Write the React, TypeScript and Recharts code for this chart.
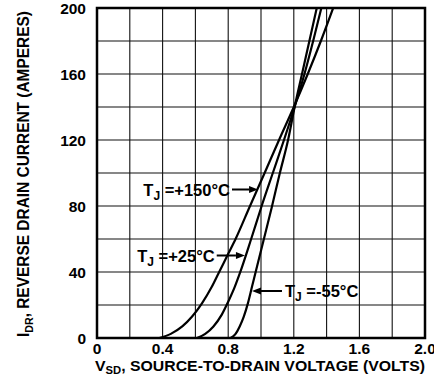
import {
  CartesianGrid,
  Label,
  Line,
  LineChart,
  ReferenceArea,
  ReferenceLine,
  XAxis,
  YAxis
} from "recharts";

// axis ticks: grid every 0.2 V / 20 A, labels every other one
const xTicks = [0, 0.2, 0.4, 0.6, 0.8, 1.0, 1.2, 1.4, 1.6, 1.8, 2.0];
const xTickLabels = ["0", "", "0.4", "", "0.8", "", "1.2", "", "1.6", "", "2.0"];
const yTicks = [0, 20, 40, 60, 80, 100, 120, 140, 160, 180, 200];
const yTickLabels = ["0", "", "40", "", "80", "", "120", "", "160", "", "200"];

// TJ = +150°C
const vHot = [0.38, 0.45, 0.52, 0.58, 0.64, 0.7, 0.745, 0.8, 0.845, 0.933, 1.022, 1.11, 1.2, 1.285, 1.365, 1.44];
const iHot = [0, 2.5, 7, 13, 21, 31, 40, 51, 60, 80, 100, 120, 140, 160, 180, 200];

// TJ = +25°C
const vRoom = [0.61, 0.66, 0.71, 0.76, 0.8, 0.84, 0.87, 0.94, 1.004, 1.072, 1.14, 1.205, 1.265, 1.318, 1.368];
const iRoom = [0, 2.5, 7, 14, 22, 31, 39, 60, 80, 100, 120, 140, 160, 180, 200];

// TJ = -55°C
const vCold = [0.815, 0.845, 0.87, 0.895, 0.92, 0.945, 0.97, 1.015, 1.065, 1.115, 1.165, 1.205, 1.25, 1.295, 1.34];
const iCold = [0, 2.5, 7, 13, 21, 31, 41, 59, 79, 100, 120, 140, 160, 180, 200];

const curveLabels = ["+150°C", "+25°C", "-55°C"];
// arrow tail / tip in chart units (volts, amperes)
const arrowTails = [
  [0.823, 90],
  [0.73, 50],
  [1.128, 28.5]
];
const arrowTips = [
  [0.982, 90],
  [0.902, 50],
  [0.945, 28.5]
];

const toPoints = (v: number[], i: number[]) => v.map((x, k) => ({ v: x, i: i[k] }));

const series = [
  { key: "hot", data: toPoints(vHot, iHot) },
  { key: "room", data: toPoints(vRoom, iRoom) },
  { key: "cold", data: toPoints(vCold, iCold) }
];

const font = "'Liberation Sans', Arial, Helvetica, sans-serif";

function Arrow(props: any) {
  const { x1, y1, x2, y2, text } = props;
  const dir = x2 > x1 ? 1 : -1;
  const hx = x2 - dir * 9;
  return (
    <g>
      <line x1={x1} y1={y1} x2={hx} y2={y2} stroke="#000" strokeWidth={2} />
      <polygon points={`${x2},${y2} ${hx},${y2 - 3.5} ${hx},${y2 + 3.5}`} fill="#000" />
      <text
        x={dir > 0 ? x1 - 2 : x1 + 3}
        y={y1 + 6.5}
        textAnchor={dir > 0 ? "end" : "start"}
        fontFamily={font}
        fontWeight="bold"
        fontSize={16.5}
        fill="#000"
      >
        T
        <tspan fontSize={12} dy={4}>J</tspan>
        <tspan dy={-4}>{" =" + text}</tspan>
      </text>
    </g>
  );
}

function XTitle(props: any) {
  const vb = props.viewBox;
  return (
    <text
      x={vb.x - 2}
      y={vb.y + 33}
      fontFamily={font}
      fontWeight="bold"
      fontSize={15.5}
      fill="#000"
      textLength={330}
      lengthAdjust="spacingAndGlyphs"
    >
      V
      <tspan fontSize={11} dy={3}>SD</tspan>
      <tspan dy={-3}>, SOURCE-TO-DRAIN VOLTAGE (VOLTS)</tspan>
    </text>
  );
}

function YTitle(props: any) {
  const vb = props.viewBox;
  const x = vb.x + 28.5;
  const y = vb.y + vb.height - 1;
  return (
    <text
      x={x}
      y={y}
      transform={`rotate(-90, ${x}, ${y})`}
      fontFamily={font}
      fontWeight="bold"
      fontSize={16}
      fill="#000"
      textLength={326}
      lengthAdjust="spacingAndGlyphs"
    >
      I
      <tspan fontSize={11} dy={4}>DR</tspan>
      <tspan dy={-4}>, REVERSE DRAIN CURRENT (AMPERES)</tspan>
    </text>
  );
}

const tickStyle = { fill: "#000", fontSize: 15.5, fontFamily: font, fontWeight: "bold" };

export default function App() {
  return (
    <div style={{ position: "absolute", left: 0, top: 0, width: 434, height: 375, background: "#fff" }}>
      <LineChart width={434} height={375} margin={{ top: 8, right: 9, bottom: 0, left: 0 }}>
        <CartesianGrid stroke="#111" strokeWidth={1.1} />
        <XAxis
          type="number"
          dataKey="v"
          domain={[0, 2]}
          ticks={xTicks}
          interval={0}
          height={37}
          tickSize={0}
          tickMargin={5}
          axisLine={false}
          tickFormatter={(_v: number, idx: number) => xTickLabels[idx]}
          tick={tickStyle}
          allowDataOverflow
        >
          <Label content={XTitle} />
        </XAxis>
        <YAxis
          type="number"
          domain={[0, 200]}
          ticks={yTicks}
          interval={0}
          width={97}
          tickSize={0}
          tickMargin={11}
          axisLine={false}
          tickFormatter={(_v: number, idx: number) => yTickLabels[idx]}
          tick={tickStyle}
          allowDataOverflow
        >
          <Label content={YTitle} />
        </YAxis>
        <ReferenceArea
          x1={0}
          x2={2}
          y1={0}
          y2={200}
          fill="none"
          fillOpacity={0}
          stroke="#000"
          strokeWidth={2.5}
          ifOverflow="visible"
        />
        {series.map((s) => (
          <Line
            key={s.key}
            data={s.data}
            dataKey="i"
            type="monotone"
            stroke="#000"
            strokeWidth={2.2}
            dot={false}
            activeDot={false}
            isAnimationActive={false}
          />
        ))}
        {curveLabels.map((t, k) => (
          <ReferenceLine
            key={t}
            segment={[
              { x: arrowTails[k][0], y: arrowTails[k][1] },
              { x: arrowTips[k][0], y: arrowTips[k][1] }
            ]}
            ifOverflow="visible"
            shape={(p: any) => <Arrow {...p} text={t} />}
          />
        ))}
      </LineChart>
    </div>
  );
}
